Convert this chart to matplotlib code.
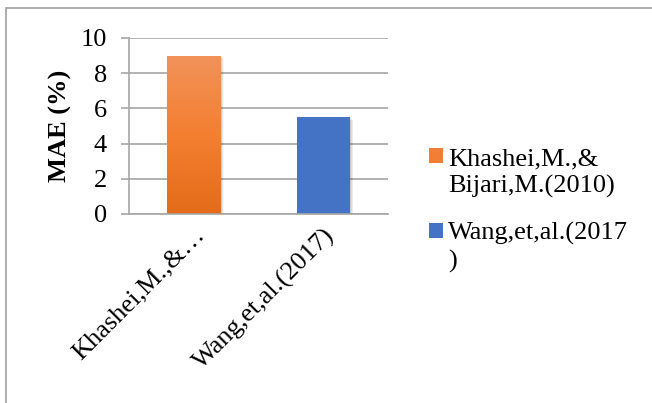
import numpy as np
import matplotlib
matplotlib.use("Agg")
import matplotlib.pyplot as plt
from matplotlib.patches import Rectangle
from matplotlib.colors import LinearSegmentedColormap

plt.rcParams['font.family'] = ['Liberation Serif', 'DejaVu Serif']

categories = ["Khashei,M.,&…", "Wang,et,al.(2017)"]
legend_labels = [["Khashei,M.,&", "Bijari,M.(2010)"], ["Wang,et,al.(2017", ")"]]
mae_values = [9.0, 5.5]
yticks = [0, 2, 4, 6, 8, 10]

orange_top, orange_bottom = "#f1925a", "#e36c1a"
blue = "#4472c4"
grid_gray = "#a6a6a6"
FS = 19
W, H = 652, 403

fig = plt.figure(figsize=(W / 100, H / 100), dpi=100)

# outer chart frame (only top and left edges fall inside the canvas)
frame = Rectangle((6 / W, -0.1), 1.2, 1 - 8 / H + 0.1,
                  transform=fig.transFigure, fill=False,
                  edgecolor="#a0a0a0", linewidth=1.2)
fig.patches.append(frame)

ax = fig.add_axes([129 / W, 1 - 214 / H, 259 / W, 176 / H])
x = np.arange(len(categories))
width = 0.41

ax.set_xlim(-0.5, 1.5)
ax.set_ylim(0, 10)
ax.set_yticks(yticks)
ax.yaxis.grid(True, color=grid_gray, linewidth=1.2)
ax.set_axisbelow(True)

for side in ["top", "right"]:
    ax.spines[side].set_visible(False)
ax.spines["left"].set_color(grid_gray)
ax.spines["bottom"].set_color(grid_gray)
ax.spines["left"].set_linewidth(1.2)
ax.spines["bottom"].set_linewidth(1.2)
ax.tick_params(axis="y", length=6, color=grid_gray, width=1.2,
               labelsize=FS, pad=10)
ax.tick_params(axis="x", length=0, labelsize=FS, pad=7)

# soft drop shadows behind the bars
for xi, v in zip(x, mae_values):
    for k in range(6):
        off = 0.006 + 0.004 * k
        ax.add_patch(Rectangle((xi - width / 2 + off, -0.05), width, v + 0.05 - off * 6,
                               facecolor="black", alpha=0.035, edgecolor="none",
                               zorder=1.5))

bars = ax.bar(x, mae_values, width=width, color=["none", blue], zorder=2)

# vertical gradient fill for the first bar
grad_cmap = LinearSegmentedColormap.from_list("og", [orange_bottom, "#f47f30", orange_top])
b0 = bars[0]
grad = np.linspace(0, 1, 256).reshape(-1, 1)
im = ax.imshow(grad, cmap=grad_cmap, origin="lower", aspect="auto",
               extent=[b0.get_x(), b0.get_x() + b0.get_width(), 0, mae_values[0]],
               zorder=2.1)
im.set_clip_path(b0)
ax.set_xlim(-0.5, 1.5)
ax.set_ylim(0, 10)

ax.set_xticks(x)
ax.set_xticklabels(categories, rotation=45, ha="right", rotation_mode="anchor")

ax.set_ylabel("MAE (%)", fontsize=FS, fontweight="bold", labelpad=6)

# legend: swatch aligned with the first line of each wrapped entry
swatch_colors = ["#f07f35", blue]
entry_top = [148, 223]       # px from top of the figure
line_step = 28
for color, lines, top in zip(swatch_colors, legend_labels, entry_top):
    fig.patches.append(Rectangle((429 / W, 1 - (top + 15) / H), 14 / W, 15 / H,
                                 transform=fig.transFigure, facecolor=color,
                                 edgecolor="none"))
    for i, line in enumerate(lines):
        fig.text(448 / W, 1 - (top + 17 + i * line_step) / H, line,
                 fontsize=FS, ha="left", va="baseline")

fig.savefig("out.png", dpi=100)
